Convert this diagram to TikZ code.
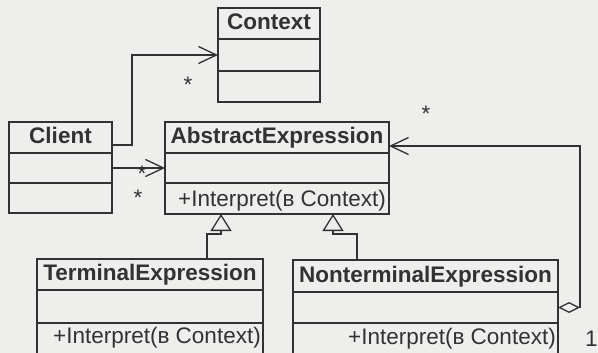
\documentclass[tikz,border=0pt]{standalone}
\usepackage{fontspec}
\setmainfont{Liberation Sans}
\usetikzlibrary{arrows.meta}
\definecolor{ink}{RGB}{50,50,50}
\definecolor{paper}{RGB}{238,238,236}
\begin{document}
\begin{tikzpicture}[x=1pt,y=1pt,
  line/.style={draw=ink, line width=1.3pt},
  comp/.style={line, inner sep=0pt, outer sep=0pt, anchor=north west, text=ink,
    text height=16.5pt, text depth=4.5pt},
  ttl/.style={comp, font=\fontsize{22.5}{26}\selectfont\bfseries},
  optext/.style={inner sep=0pt, text=ink, anchor=base east, font=\fontsize{22.5}{26}\selectfont},
  mult/.style={inner sep=0pt, text=ink, anchor=base, font=\fontsize{22.5}{26}\selectfont},
  assoc/.style={line, line join=miter, -{Straight Barb[length=18pt, width=17pt]}},
  gen/.style={line, line join=miter, -{Triangle[open, length=17pt, width=21pt]}},
  aggr/.style={line, line join=miter, {Diamond[open, length=22pt, width=11pt]}-{Straight Barb[length=18pt, width=17pt]}}]
  \fill[paper] (0,0) rectangle (598,-353);
  \useasboundingbox (0,0) rectangle (598,-353);
  \clip (0,0) rectangle (598,-353);

  % Context
  \node[ttl, minimum width=102pt, minimum height=31pt] (ctx-t) at (218,-8) {Context};
  \node[comp, minimum width=102pt, minimum height=32pt] (ctx-a) at (ctx-t.south west) {};
  \node[comp, minimum width=102pt, minimum height=31pt] (ctx-o) at (ctx-a.south west) {};

  % Client
  \node[ttl, minimum width=103pt, minimum height=31pt] (cli-t) at (9,-122) {Client};
  \node[comp, minimum width=103pt, minimum height=30pt] (cli-a) at (cli-t.south west) {};
  \node[comp, minimum width=103pt, minimum height=30pt] (cli-o) at (cli-a.south west) {};

  % AbstractExpression
  \node[ttl, minimum width=224pt, minimum height=31pt] (abs-t) at (165,-122) {AbstractExpression};
  \node[comp, minimum width=224pt, minimum height=30pt] (abs-a) at (abs-t.south west) {};
  \node[comp, minimum width=224pt, minimum height=31pt] (abs-o) at (abs-a.south west) {};
  \node[optext] (abs-op) at ([shift={(-3pt,8pt)}]abs-o.south east) {+Interpret(в Context)};

  % TerminalExpression
  \node[ttl, minimum width=226pt, minimum height=31pt] (ter-t) at (37,-259) {TerminalExpression};
  \node[comp, minimum width=226pt, minimum height=33pt] (ter-a) at (ter-t.south west) {};
  \node[comp, minimum width=226pt, minimum height=40pt] (ter-o) at (ter-a.south west) {};
  \node[optext] (ter-op) at ([shift={(-2pt,-20pt)}]ter-o.north east) {+Interpret(в Context)};

  % NonterminalExpression
  \node[ttl, minimum width=265pt, minimum height=32pt] (nt-t) at (293,-260) {NonterminalExpression};
  \node[comp, minimum width=265pt, minimum height=31pt] (nt-a) at (nt-t.south west) {};
  \node[comp, minimum width=265pt, minimum height=40pt] (nt-o) at (nt-a.south west) {};
  \node[optext] (nt-op) at ([shift={(-2pt,-21pt)}]nt-o.north east) {+Interpret(в Context)};

  % bend points
  \coordinate (b-ctx) at (132,-145);
  \coordinate (b-agg) at (580,-146);
  \coordinate (b-ter) at (221,-234);
  \coordinate (b-nt) at (333,-234);

  % associations
  \draw[assoc] (cli-t.east |- b-ctx) -- (b-ctx) |- (ctx-a.west);
  \draw[assoc] (cli-a.east) -- (abs-a.west);
  \draw[aggr] (nt-a.east) -| (b-agg) -- (abs-t.east |- b-agg);

  % generalizations
  \draw[gen] (ter-t.north -| 207,0) |- (b-ter) -- (abs-o.south -| b-ter);
  \draw[gen] (nt-t.north -| 357,0) |- (b-nt) -- (abs-o.south -| b-nt);

  % multiplicities
  \node[mult] (m1) at (188,-93) {*};
  \node[mult] (m2) at (426,-122) {*};
  \node[mult] (m3) at (142,-182) {*};
  \node[mult] (m4) at (138,-205) {*};
  \node[mult, anchor=base west] (m5) at (585,-346) {1};
\end{tikzpicture}
\end{document}
